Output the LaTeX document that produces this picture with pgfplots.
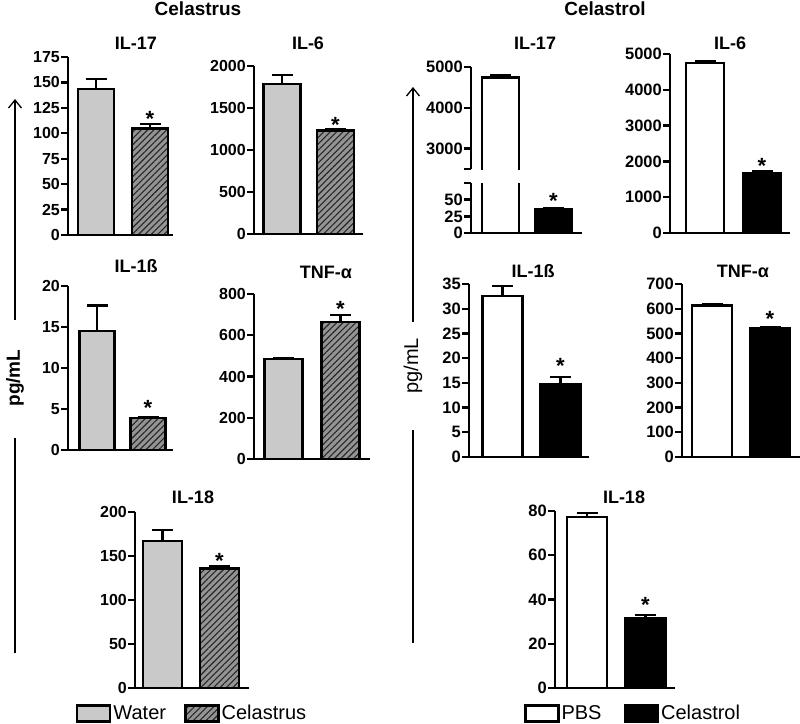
\documentclass[border=0pt]{standalone}
\usepackage{fontspec}
\setmainfont{Liberation Sans}
\usepackage{pgfplots}
\pgfplotsset{compat=1.18}
\usetikzlibrary{patterns.meta,arrows.meta}

\definecolor{watergray}{gray}{0.79}
\definecolor{hatchgray}{gray}{0.58}

\pgfplotsset{
 panel/.style={
  scale only axis, anchor=south west,
  axis x line=bottom, axis y line=left,
  axis line style={-, line width=2.6pt, black},
  xtick=\empty, ymin=0, xmin=0,
  enlargelimits=false,
  tick align=outside, major tick length=7pt,
  tick style={line width=2.4pt, black},
  yticklabel style={font=\bfseries\fontsize{16}{16}\selectfont, inner sep=1pt},
  scaled y ticks=false,
  /pgf/number format/assume math mode=true,
  /pgf/number format/1000 sep={},
  ybar, bar shift=0pt,
  error bars/y dir=plus, error bars/y explicit,
  error bars/error bar style={line width=2.6pt, black, solid},
  error bars/error mark options={rotate=90, line width=2.6pt, black, solid, mark size=10.5pt},
  legend image code/.code={\draw[#1,line width=2.6pt] (0pt,-8pt) rectangle (33pt,8pt);},
  clip=false,
 },
 rpanel/.style={panel, yticklabel style={font=\bfseries\fontsize{16.5}{16.5}\selectfont, inner sep=1pt}},
 water/.style={draw=black, line width=2.6pt, fill=watergray},
 celastrus/.style={draw=black, line width=2.6pt, preaction={fill=hatchgray},
   pattern={Lines[angle=45,distance=4.5pt,line width=1.1pt]}, pattern color=black!85},
 pbs/.style={draw=black, line width=2.6pt, fill=white},
 celastrol/.style={draw=black, line width=2.6pt, fill=black},
}
\tikzset{starnode/.style={font=\bfseries\fontsize{22}{22}\selectfont, anchor=base, inner sep=0pt},
  ttl/.style={font=\bfseries\fontsize{18}{18}\selectfont, inner sep=0pt}}

\begin{document}
\begin{tikzpicture}
\useasboundingbox (0pt,0pt) rectangle (800pt,-723pt);

% ---------- Celastrus ----------
% IL-17
\begin{axis}[panel, at={(68pt,-235pt)}, width=105pt, height=178pt, xmax=105, ymax=175,
  ytick={0,25,...,175}, bar width=36]
\addplot[water] coordinates {(28,143.5) +- (0,10)};
\addplot[celastrus] coordinates {(82,104.5) +- (0,4.8)};
\node[starnode, yshift=-3pt] at (axis cs:82,109.3) {*};
\end{axis}
% IL-6
\begin{axis}[panel, at={(254pt,-234pt)}, width=109pt, height=168pt, xmax=109, ymax=2000,
  ytick={0,500,...,2000}, bar width=37]
\addplot[water] coordinates {(28,1784) +- (0,108)};
\addplot[celastrus] coordinates {(81.5,1233) +- (0,12)};
\node[starnode, yshift=-3pt] at (axis cs:81.5,1245) {*};
\end{axis}
% IL-1b
\begin{axis}[panel, at={(68pt,-450pt)}, width=105pt, height=164pt, xmax=105, ymax=20,
  ytick={0,5,...,20}, bar width=35]
\addplot[water] coordinates {(29,14.5) +- (0,3.1)};
\addplot[celastrus] coordinates {(80,3.9) +- (0,0.05)};
\node[starnode, yshift=2pt] at (axis cs:80,3.95) {*};
\end{axis}
% TNF-a
\begin{axis}[panel, at={(254pt,-459pt)}, width=116pt, height=165pt, xmax=116, ymax=800,
  ytick={0,200,...,800}, bar width=38]
\addplot[water] coordinates {(29.5,485) +- (0,5)};
\addplot[celastrus] coordinates {(86.5,664) +- (0,34)};
\node[starnode, yshift=-1pt] at (axis cs:86.5,698) {*};
\end{axis}
% IL-18
\begin{axis}[panel, at={(135pt,-688pt)}, width=114pt, height=176pt, xmax=114, ymax=200,
  ytick={0,50,...,200}, bar width=39,
  legend columns=2,
  legend style={draw=none, fill=none, at={(0.5,0)}, anchor=north, yshift=-15pt,
    font=\fontsize{20}{20}\selectfont, inner sep=0pt,
    /tikz/every even column/.append style={column sep=16pt}}]
\addplot[water] coordinates {(27.5,167) +- (0,12.5)};
\addlegendentry{Water}
\addplot[celastrus] coordinates {(84.5,136) +- (0,2)};
\addlegendentry{Celastrus}
\node[starnode, yshift=-2pt] at (axis cs:84.5,138) {*};
\end{axis}

% ---------- Celastrol ----------
% IL-17 (broken axis) upper
\begin{axis}[rpanel, at={(471pt,-169pt)}, width=111pt, height=102pt, xmax=111,
  ymin=2500, ymax=5000, axis x line=none, axis line style={-, line width=2.6pt, black},
  ytick={2500,3000,4000,5000}, yticklabels={,3000,4000,5000}, bar width=37,
  clip=true, clip mode=individual]
\addplot[draw=none, fill=white] coordinates {(29.5,4750) +- (0,40)};
\addplot[sharp plot, no markers, draw=black, line width=2.6pt] coordinates {(11,2400) (11,4750) (48,4750) (48,2400)};
\end{axis}
% IL-17 lower
\begin{axis}[rpanel, at={(471pt,-233pt)}, width=111pt, height=50pt, xmax=111,
  ymax=75, ytick={0,25,50,75}, yticklabels={0,25,50,}, bar width=37,
  clip=true, clip mode=individual]
\addplot[pbs] coordinates {(29.5,4750) +- (0,40)};
\addplot[celastrol] coordinates {(82.5,35.5) +- (0,1.5)};
\node[starnode, yshift=0pt] at (axis cs:82.5,37) {*};
\end{axis}
% IL-6
\begin{axis}[rpanel, at={(670pt,-233pt)}, width=120pt, height=179pt, xmax=120, ymax=5000,
  ytick={0,1000,...,5000}, bar width=38]
\addplot[pbs] coordinates {(35,4750) +- (0,55)};
\addplot[celastrol] coordinates {(92,1680) +- (0,30)};
\node[starnode, yshift=-2pt] at (axis cs:92,1710) {*};
\end{axis}
% IL-1b
\begin{axis}[rpanel, at={(469pt,-457pt)}, width=120pt, height=173pt, xmax=120, ymax=35,
  ytick={0,5,...,35}, bar width=40]
\addplot[pbs] coordinates {(33.5,32.6) +- (0,2)};
\addplot[celastrol] coordinates {(91.5,14.8) +- (0,1.4)};
\node[starnode, yshift=3pt] at (axis cs:91.5,16.2) {*};
\end{axis}
% TNF-a
\begin{axis}[rpanel, at={(682pt,-457pt)}, width=118pt, height=173pt, xmax=118, ymax=700,
  ytick={0,100,...,700}, bar width=40]
\addplot[pbs] coordinates {(30,613) +- (0,6)};
\addplot[celastrol] coordinates {(88,519) +- (0,7)};
\node[starnode, yshift=1pt] at (axis cs:88,526) {*};
\end{axis}
% IL-18
\begin{axis}[rpanel, at={(555pt,-688pt)}, width=120pt, height=177pt, xmax=120, ymax=80,
  ytick={0,20,...,80}, bar width=40,
  legend columns=2,
  legend style={draw=none, fill=none, at={(0.5,0)}, anchor=north, yshift=-15pt, xshift=18pt,
    font=\fontsize{20}{20}\selectfont, inner sep=0pt,
    /tikz/every even column/.append style={column sep=20pt}}]
\addplot[pbs] coordinates {(32,77.3) +- (0,1.8)};
\addlegendentry{PBS}
\addplot[celastrol] coordinates {(90.5,31.6) +- (0,1.4)};
\addlegendentry{Celastrol}
\node[starnode, yshift=3pt] at (axis cs:90.5,33) {*};
\end{axis}

% ---------- titles ----------
\node[ttl, font=\bfseries\fontsize{19}{19}\selectfont] at (198pt,-9pt) {Celastrus};
\node[ttl, font=\bfseries\fontsize{19}{19}\selectfont] at (605pt,-9pt) {Celastrol};
\node[ttl] at (136pt,-43pt) {IL-17};
\node[ttl] at (308pt,-43pt) {IL-6};
\node[ttl] at (136pt,-266pt) {IL-1ß};
\node[ttl] at (326pt,-272pt) {TNF-α};
\node[ttl] at (193pt,-497pt) {IL-18};
\node[ttl] at (535pt,-43pt) {IL-17};
\node[ttl] at (730pt,-43pt) {IL-6};
\node[ttl] at (533pt,-271pt) {IL-1ß};
\node[ttl] at (743pt,-271pt) {TNF-α};
\node[ttl] at (624pt,-497pt) {IL-18};

% ---------- y arrows ----------
\draw[line width=1.3pt, -{Straight Barb[length=8pt,width=13pt,line width=1.3pt]}] (15pt,-320pt) -- (15pt,-99pt);
\draw[line width=1.3pt] (15pt,-438pt) -- (15pt,-653pt);
\node[rotate=90, font=\bfseries\fontsize{19}{19}\selectfont, inner sep=0pt] at (15pt,-378pt) {pg/mL};
\draw[line width=1.3pt, -{Straight Barb[length=8pt,width=13pt,line width=1.3pt]}] (413pt,-322pt) -- (413pt,-87pt);
\draw[line width=1.3pt] (413pt,-430pt) -- (413pt,-643pt);
\node[rotate=90, font=\fontsize{20}{20}\selectfont, inner sep=0pt] at (413pt,-366pt) {pg/mL};
\end{tikzpicture}
\end{document}
